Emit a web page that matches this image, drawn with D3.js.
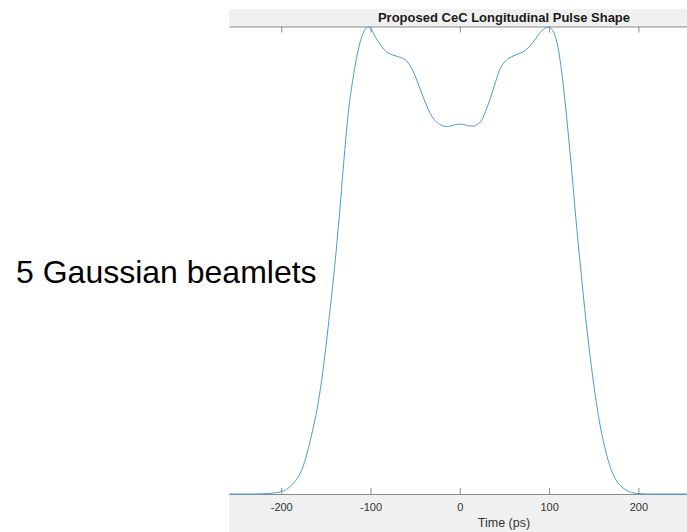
<!DOCTYPE html>
<html>
<head>
<meta charset="utf-8">
<script src="https://cdn.jsdelivr.net/npm/d3@7"></script>
<style>
  body { margin: 0; background: #fff; }
  svg { display: block; }
  text { font-family: Arial, "Liberation Sans", sans-serif; }
</style>
</head>
<body>
<svg id="chart" width="687" height="532"></svg>
<script>
// pulse shape: time (ps) and normalised amplitude
const times = [-258, -230, -215, -205, -200, -195, -190, -185, -180, -175, -170, -165, -160, -155,
  -150, -145, -140, -135, -130, -125, -120, -115, -110, -106, -103, -99, -95, -90, -85, -80, -75,
  -70, -65, -60, -55, -50, -45, -40, -35, -30, -25, -20, -15, -10, -5, 0, 5, 10, 15, 20, 25, 30,
  35, 40, 45, 50, 55, 60, 65, 70, 75, 80, 85, 90, 95, 99, 103, 107, 111, 115, 120, 125, 130, 135,
  140, 145, 150, 155, 160, 165, 170, 175, 180, 185, 190, 195, 200, 210, 230, 260, 300, 357]
const amplitude = [0, 0, 0.001, 0.003, 0.005, 0.009, 0.016, 0.026, 0.04, 0.062, 0.095, 0.135, 0.18, 0.24,
  0.315, 0.4, 0.49, 0.595, 0.71, 0.815, 0.885, 0.94, 0.978, 0.995, 1.0, 0.995, 0.98, 0.965, 0.952, 0.944, 0.94,
  0.937, 0.934, 0.928, 0.915, 0.895, 0.87, 0.845, 0.822, 0.805, 0.795, 0.789, 0.787, 0.788, 0.791, 0.792, 0.791, 0.788, 0.788, 0.792, 0.802, 0.825,
  0.852, 0.882, 0.91, 0.925, 0.933, 0.938, 0.942, 0.946, 0.953, 0.962, 0.975, 0.988, 0.997, 1.0, 0.995, 0.98, 0.945, 0.89, 0.8, 0.7, 0.59, 0.49,
  0.395, 0.31, 0.235, 0.17, 0.12, 0.08, 0.05, 0.03, 0.018, 0.01, 0.005, 0.002, 0.001, 0, 0, 0, 0, 0]
const xTicks = [-200, -100, 0, 100, 200]

const chartTitle = 'Proposed CeC Longitudinal Pulse Shape'
const xLabel = 'Time (ps)'
const sideNote = '5 Gaussian beamlets'

const svg = d3.select('#chart')

// axes box (the figure is cropped on the right)
const axLeft = 229, axRight = 779, axTop = 27, axBottom = 494
const x = d3.scaleLinear().domain([-258.5, 357.5]).range([axLeft, axRight])
const y = d3.scaleLinear().domain([0, 1]).range([axBottom, axTop])

// grey figure background around the axes
svg.append('rect').attr('x', axLeft).attr('y', 9).attr('width', 687 - axLeft).attr('height', axTop - 9).attr('fill', '#f0f0f0')
svg.append('rect').attr('x', axLeft).attr('y', axBottom).attr('width', 687 - axLeft).attr('height', 532 - axBottom).attr('fill', '#f0f0f0')

const axisColor = '#8a8a8a'

const bottomAxis = svg.append('g')
  .attr('transform', 'translate(0,' + axBottom + ')')
  .call(d3.axisBottom(x).tickValues(xTicks).tickSizeInner(-6).tickSizeOuter(0).tickPadding(9)
    .tickFormat(d => String(d)))
bottomAxis.select('.domain').attr('stroke', axisColor)
bottomAxis.selectAll('.tick line').attr('stroke', axisColor)
bottomAxis.selectAll('.tick text').attr('fill', '#333').style('font-size', '11px')

const topAxis = svg.append('g')
  .attr('transform', 'translate(0,' + (axTop - 0.5) + ')')
  .call(d3.axisTop(x).tickValues(xTicks).tickSizeInner(-6).tickSizeOuter(0).tickFormat(''))
topAxis.select('.domain').attr('stroke', axisColor)
topAxis.selectAll('.tick line').attr('stroke', axisColor)

const pulse = times.map((t, i) => ({ t: t, a: amplitude[i] }))
const valueLine = d3.line()
  .x(d => x(d.t))
  .y(d => y(d.a))
  .curve(d3.curveMonotoneX)

svg.append('path')
  .datum(pulse)
  .attr('fill', 'none')
  .attr('stroke', '#4a9bd5')
  .attr('stroke-width', 1)
  .attr('d', valueLine)

svg.append('text')
  .attr('x', (axLeft + axRight) / 2).attr('y', 22)
  .attr('text-anchor', 'middle')
  .style('font-size', '13px').style('font-weight', 'bold').attr('fill', '#1a1a1a')
  .text(chartTitle)

svg.append('text')
  .attr('x', (axLeft + axRight) / 2).attr('y', 527)
  .attr('text-anchor', 'middle')
  .style('font-size', '12.5px').attr('fill', '#333')
  .text(xLabel)

svg.append('text')
  .attr('x', 16).attr('y', 283)
  .style('font-size', '32px').attr('fill', '#000')
  .text(sideNote)
</script>
</body>
</html>
